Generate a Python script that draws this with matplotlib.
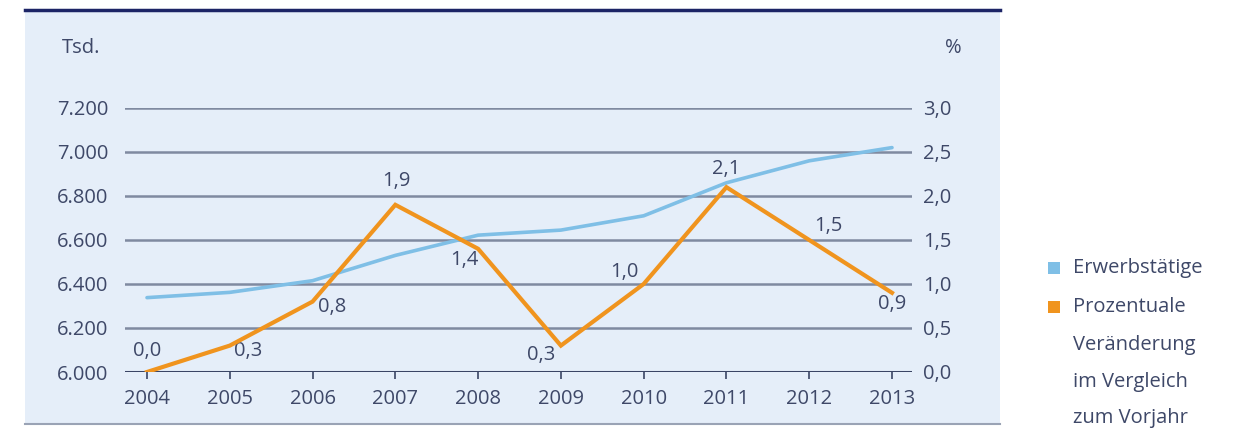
import matplotlib.pyplot as plt
from matplotlib.patches import Rectangle
from matplotlib.lines import Line2D

plt.rcParams["font.family"] = ["Open Sans", "DejaVu Sans"]

# Daten
jahre = [2004, 2005, 2006, 2007, 2008, 2009, 2010, 2011, 2012, 2013]
erwerbstaetige = [6338, 6362, 6415, 6530, 6622, 6645, 6710, 6860, 6960, 7020]
veraenderung = [0.0, 0.3, 0.8, 1.9, 1.4, 0.3, 1.0, 2.1, 1.5, 0.9]
links_ticks = [6000, 6200, 6400, 6600, 6800, 7000, 7200]
rechts_ticks = [0.0, 0.5, 1.0, 1.5, 2.0, 2.5, 3.0]

# Versatz der Wertbeschriftungen (Punkte)
label_offsets = [(0, 15), (13, -4), (14, -4), (1, 17), (-10, -8),
                 (-14, -7), (-14, 9), (0, 13), (14, 10), (0, -8)]

blau = "#7fbfe6"
orange = "#f0941e"
text_farbe = "#3e4868"
gitter = "#7f8aa0"
hintergrund = "#e5eef9"
fs = 14.5

W, H = 1240, 429
fig = plt.figure(figsize=(W / 100, H / 100), dpi=100)
fig.patch.set_facecolor("white")

# Hintergrundfläche mit Rahmenlinien
fig.add_artist(Rectangle((25 / W, 1 - 423 / H), 975 / W, 413 / H,
                         transform=fig.transFigure, facecolor=hintergrund,
                         edgecolor="none", zorder=0))
fig.add_artist(Line2D([25 / W, 1000 / W], [1 - 10 / H, 1 - 10 / H],
                      transform=fig.transFigure, color="#1c2466", lw=2.5))
fig.add_artist(Line2D([25 / W, 1000 / W], [1 - 424 / H, 1 - 424 / H],
                      transform=fig.transFigure, color="#9aa3b5", lw=1.5))

ax = fig.add_axes([125 / W, 1 - 372 / H, 787 / W, 264 / H])
ax.set_facecolor("none")
ax.set_xlim(2004 - 22 / 82.8, 2013 + 20 / 82.8)
ax.set_ylim(6000, 7200)
for s in ax.spines.values():
    s.set_visible(False)

for y in links_ticks[1:]:
    ax.axhline(y, color=gitter, lw=1.8, zorder=1)
ax.axhline(6000, color="#3a4565", lw=2.2, zorder=1)

ax.set_xticks(jahre)
ax.set_xticklabels([str(j) for j in jahre])
ax.set_yticks(links_ticks)
ax.set_yticklabels([f"{v:,}".replace(",", ".") for v in links_ticks])
ax.tick_params(axis="x", length=5, width=1.2, color="#3a4565", pad=7,
               labelsize=fs, labelcolor=text_farbe)
ax.tick_params(axis="y", length=0, pad=12, labelsize=fs, labelcolor=text_farbe)

ax.plot(jahre, erwerbstaetige, color=blau, lw=2.6, zorder=3,
        solid_capstyle="round")

ax2 = ax.twinx()
ax2.set_ylim(0, 3.0)
for s in ax2.spines.values():
    s.set_visible(False)
ax2.set_yticks(rechts_ticks)
ax2.set_yticklabels([f"{v:.1f}".replace(".", ",") for v in rechts_ticks])
ax2.tick_params(axis="y", length=0, pad=8, labelsize=fs, labelcolor=text_farbe)
ax2.plot(jahre, veraenderung, color=orange, lw=3, zorder=4,
         solid_joinstyle="miter")

for j, v, (dx, dy) in zip(jahre, veraenderung, label_offsets):
    ax2.annotate(f"{v:.1f}".replace(".", ","), (j, v), xytext=(dx, dy),
                 textcoords="offset points", ha="center", va="center",
                 fontsize=fs, color=text_farbe)

# Achsentitel
fig.text(62 / W, 1 - 48 / H, "Tsd.", fontsize=fs, color=text_farbe,
         ha="left", va="center")
fig.text(953 / W, 1 - 48 / H, "%", fontsize=fs, color=text_farbe,
         ha="center", va="center")

# Legende
fig.add_artist(Rectangle((1048 / W, 1 - 274 / H), 12 / W, 12 / H,
                         transform=fig.transFigure, facecolor=blau,
                         edgecolor="none"))
fig.add_artist(Rectangle((1048 / W, 1 - 313 / H), 12 / W, 12 / H,
                         transform=fig.transFigure, facecolor=orange,
                         edgecolor="none"))
legende = [("Erwerbstätige", 268), ("Prozentuale", 307),
           ("Veränderung", 345), ("im Vergleich", 382), ("zum Vorjahr", 418)]
for txt, y in legende:
    fig.text(1073 / W, 1 - y / H, txt, fontsize=fs, color=text_farbe,
             ha="left", va="center")

fig.savefig("out.png", dpi=100)
